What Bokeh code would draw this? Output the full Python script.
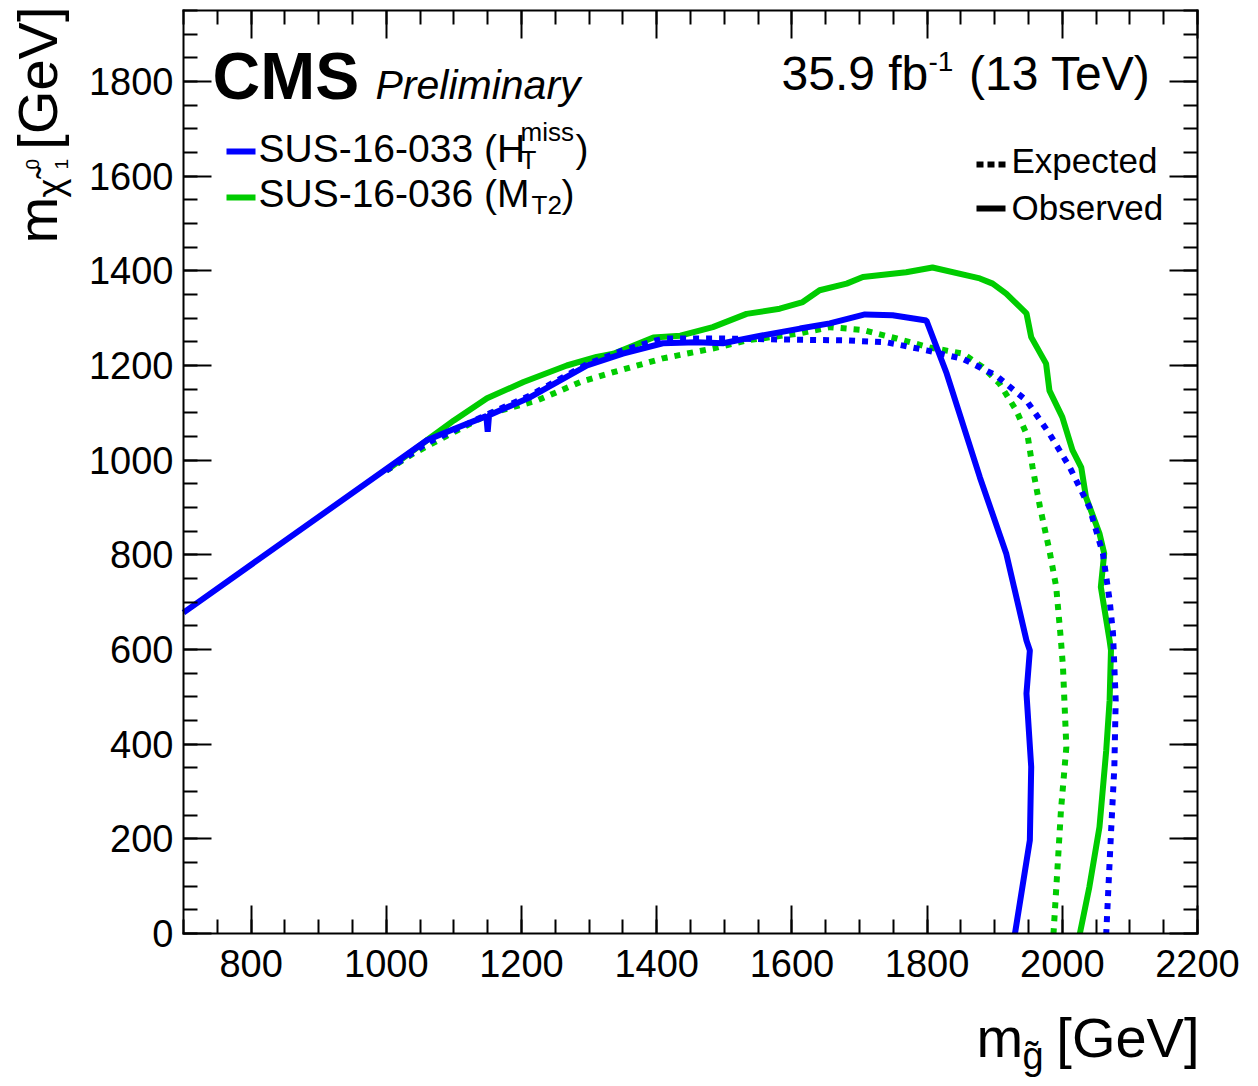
import math
from bokeh.plotting import figure
from bokeh.models import Range1d, FixedTicker, LinearAxis, Label, BoxAnnotation
from bokeh.embed import file_html
from bokeh.resources import INLINE

# 95% CL exclusion contours, gluino mass vs. LSP mass [GeV]
# SUS-16-033 (H_T^miss), observed
obs_033_mg = [700, 1060, 1100, 1148, 1150, 1152, 1213, 1297, 1350, 1409,
              1459, 1498, 1550, 1612, 1656, 1708, 1749, 1799, 1829, 1878,
              1917, 1947, 1952, 1947, 1954, 1952, 1930]
obs_033_mlsp = [678, 1042, 1066, 1093, 1060, 1095, 1133, 1200, 1225, 1247,
                1249, 1247, 1262, 1278, 1289, 1308, 1306, 1295, 1183, 964,
                803, 619, 598, 507, 352, 197, 0]
# SUS-16-033 (H_T^miss), expected
exp_033_mg = [1000, 1060, 1150, 1213, 1297, 1350, 1409, 1500, 1582, 1681,
              1740, 1799, 1853, 1902, 1947, 1981, 2011, 2040, 2060, 2070,
              2075, 2079, 2077, 2072, 2065]
exp_033_mlsp = [978, 1036, 1097, 1137, 1203, 1232, 1257, 1257, 1255, 1253,
                1249, 1232, 1214, 1179, 1126, 1056, 985, 901, 803, 704,
                634, 493, 352, 211, 0]
# SUS-16-036 (M_T2), observed
obs_036_mg = [1000, 1060, 1100, 1149, 1203, 1267, 1311, 1336, 1395, 1435,
              1483, 1533, 1582, 1616, 1641, 1681, 1705, 1769, 1808, 1878,
              1897, 1917, 1947, 1954, 1976, 1981, 2000, 2015, 2028, 2035,
              2055, 2062, 2057, 2070, 2072, 2070, 2065, 2055, 2040, 2026]
obs_036_mlsp = [978, 1042, 1084, 1131, 1165, 1200, 1218, 1225, 1259, 1263,
                1281, 1309, 1320, 1334, 1359, 1373, 1387, 1397, 1407, 1384,
                1373, 1352, 1310, 1260, 1204, 1147, 1091, 1021, 985, 922,
                845, 803, 732, 619, 598, 493, 387, 225, 98, 0]
# SUS-16-036 (M_T2), expected
exp_036_mg = [1000, 1040, 1090, 1154, 1223, 1287, 1336, 1409, 1483, 1533,
              1612, 1656, 1705, 1755, 1804, 1853, 1882, 1907, 1932, 1949,
              1956, 1967, 1981, 1991, 1998, 2001, 2006, 1998, 1993, 1987]
exp_036_mlsp = [978, 1014, 1052, 1099, 1126, 1165, 1186, 1215, 1236, 1253,
                1268, 1281, 1275, 1257, 1238, 1225, 1197, 1162, 1105, 1049,
                985, 901, 809, 732, 619, 563, 394, 260, 141, 0]

X_MIN, X_MAX = 700, 2200
Y_MIN, Y_MAX = 0, 1950
x_major = [800, 1000, 1200, 1400, 1600, 1800, 2000, 2200]
x_minor = list(range(700, 2201, 50))
y_major = [0, 200, 400, 600, 800, 1000, 1200, 1400, 1600, 1800]
y_minor = list(range(0, 1951, 50))

FONT = "Liberation Sans"
BLUE = "#0000ff"
GREEN = "#00cc00"

# canvas size and where the axes box sits on it (pixels from top-left)
W, H = 1258, 1086
BOX_L, BOX_R, BOX_T, BOX_B = 183, 1197, 10, 933

# the plotting frame fills the whole canvas; the axes are pinned to the box edges
kx = (BOX_R - BOX_L) / (X_MAX - X_MIN)
ky = (BOX_B - BOX_T) / (Y_MAX - Y_MIN)
x_range = Range1d(X_MIN - BOX_L / kx, X_MAX + (W - BOX_R) / kx)
y_range = Range1d(Y_MIN - (H - BOX_B) / ky, Y_MAX + BOX_T / ky)

p = figure(width=W, height=H, x_range=x_range, y_range=y_range,
           x_axis_type=None, y_axis_type=None, min_border=0,
           output_backend="svg", toolbar_location=None)
p.grid.visible = False
p.outline_line_color = None
p.background_fill_color = "white"
p.border_fill_color = "white"


def make_axis(loc, bounds, major, minor, labels, standoff):
    ax = LinearAxis(fixed_location=loc, bounds=bounds,
                    ticker=FixedTicker(ticks=major, minor_ticks=minor),
                    axis_line_color="black", axis_line_width=2,
                    axis_line_cap="square",
                    major_tick_line_color="black", major_tick_line_width=2,
                    minor_tick_line_color="black", minor_tick_line_width=2,
                    major_tick_in=28, major_tick_out=0,
                    minor_tick_in=14, minor_tick_out=0,
                    major_label_text_font=FONT,
                    major_label_text_color="black",
                    major_label_text_font_style="normal",
                    major_label_standoff=standoff)
    if labels:
        ax.major_label_text_font_size = "38px"
    else:
        ax.major_label_text_font_size = "0px"
        ax.major_label_text_alpha = 0
    return ax


p.add_layout(make_axis(Y_MIN, (X_MIN, X_MAX), x_major, x_minor, True, 16), "below")
p.add_layout(make_axis(X_MIN, (Y_MIN, Y_MAX), y_major, y_minor, True, 10), "left")
p.add_layout(make_axis(Y_MAX, (X_MIN, X_MAX), x_major, x_minor, False, 0), "above")
p.add_layout(make_axis(X_MAX, (Y_MIN, Y_MAX), y_major, y_minor, False, 0), "right")

# contours
p.line(exp_036_mg, exp_036_mlsp, line_color=GREEN, line_width=6, line_dash="6 7")
p.line(obs_036_mg, obs_036_mlsp, line_color=GREEN, line_width=6)
p.line(exp_033_mg, exp_033_mlsp, line_color=BLUE, line_width=6, line_dash="6 7")
p.line(obs_033_mg, obs_033_mlsp, line_color=BLUE, line_width=6)

# baseline offset of rendered labels, as a fraction of the font size
K = 0.37


def txt(x, y, s, size, style="normal", align="left", rotated=False):
    """Place text with its baseline at canvas pixel (x, y)."""
    if rotated:
        sx, sy, angle = x - K * size, H - y, math.pi / 2
    else:
        sx, sy, angle = x, H - (y - K * size), 0.0
    p.add_layout(Label(x=sx, y=sy, x_units="screen", y_units="screen",
                       text=s, text_font=FONT, text_font_size=f"{size}px",
                       text_font_style=style, text_color="black",
                       text_align=align, text_baseline="alphabetic",
                       angle=angle))


def box(left, right, top, bottom, color):
    p.add_layout(BoxAnnotation(left=left, right=right,
                               top=H - top, bottom=H - bottom,
                               left_units="screen", right_units="screen",
                               top_units="screen", bottom_units="screen",
                               fill_color=color, fill_alpha=1.0,
                               line_color=None))


# CMS label and luminosity
txt(212, 100, "CMS", 66, style="bold")
txt(375, 100, "Preliminary", 41, style="italic")
txt(781, 91, "35.9 fb", 48)
txt(928, 71, "-1", 28)
txt(1150, 91, "(13 TeV)", 48, align="right")

# analysis legend
box(226, 255, 148, 154, BLUE)
box(226, 255, 194, 200, GREEN)
txt(258, 162, "SUS-16-033 (H", 39)
txt(520, 141, "miss", 26)
txt(520, 169, "T", 26)
txt(575, 162, ")", 39)
txt(258, 207, "SUS-16-036 (M", 39)
txt(531, 214, "T2", 26)
txt(561, 207, ")", 39)

# line-style legend
for l in (976, 987, 998):
    box(l, l + 7, 161, 167, "black")
box(976, 1005, 205, 211, "black")
txt(1011, 173, "Expected", 35)
txt(1011, 220, "Observed", 35)

# x-axis title
txt(976, 1058, "m", 56)
txt(1022, 1070, "g\u0303", 38)
txt(1199, 1058, "[GeV]", 56, align="right")

# y-axis title (reads upwards)
txt(58, 243, "m", 56, rotated=True)
txt(63, 197, "\u03c7\u0303", 36, rotated=True)
txt(39, 169, "0", 19, rotated=True)
txt(68, 169, "1", 19, rotated=True)
txt(58, 6, "[GeV]", 56, align="right", rotated=True)

open("out.html", "w").write(file_html(p, INLINE))
